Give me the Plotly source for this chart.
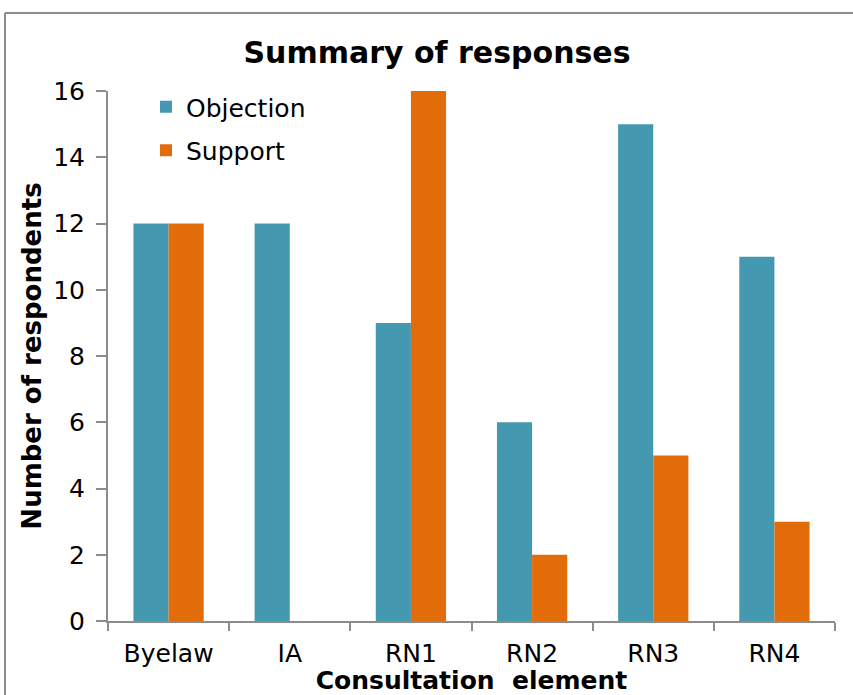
import plotly.graph_objects as go

categories = ["Byelaw", "IA", "RN1", "RN2", "RN3", "RN4"]
objection = [12, 12, 9, 6, 15, 11]
support = [12, 0, 16, 2, 5, 3]
y_ticks = [0, 2, 4, 6, 8, 10, 12, 14, 16]

teal = "#4499B0"
orange = "#E36C0A"
font = "DejaVu Sans"

fig = go.Figure()
fig.add_trace(go.Bar(x=categories, y=objection, name="Objection",
                     marker=dict(color=teal, line=dict(width=0)), legendgroup="a"))
fig.add_trace(go.Bar(x=categories, y=support, name="Support",
                     marker=dict(color=orange, line=dict(width=0)), legendgroup="b"))

L, R, T, B = 108, 18, 91, 74
W, H = 853, 695
pw, ph = W - L - R, H - T - B

def px_x(p):
    return (p - L) / pw

def px_y(p):
    return (H - B - p) / ph

fig.update_layout(
    width=W, height=H,
    margin=dict(l=L, r=R, t=T, b=B),
    paper_bgcolor="white", plot_bgcolor="white",
    font=dict(family=font, size=25, color="black"),
    barmode="group", bargap=0.42, bargroupgap=0,
    title=dict(text="<b>Summary of responses</b>", xref="container", x=437 / W,
               xanchor="center", yref="container", y=1 - 52 / H, yanchor="middle",
               font=dict(size=30, family=font)),
    legend=dict(x=px_x(146), y=px_y(84), xanchor="left", yanchor="top",
                bgcolor="rgba(0,0,0,0)", font=dict(size=25), tracegroupgap=8,
                itemwidth=30),
    showlegend=True,
    xaxis=dict(
        type="category", showline=True, linecolor="#8c8c8c", linewidth=2,
        ticks="outside", tickson="boundaries", ticklen=8, tickcolor="#8c8c8c",
        tickwidth=1.5, showgrid=False, tickfont=dict(size=25), automargin=False,
        ticklabelstandoff=9,
        title=dict(text="<b>Consultation  element</b>", font=dict(size=25), standoff=0),
    ),
    yaxis=dict(
        range=[0, 16], tickvals=y_ticks, showline=True, linecolor="#8c8c8c",
        linewidth=2, ticks="outside", ticklen=10, tickcolor="#8c8c8c", tickwidth=1.5,
        showgrid=False, zeroline=False, tickfont=dict(size=25), automargin=False,
        ticklabelstandoff=6,
        title=dict(text="<b>Number of respondents</b>", font=dict(size=26), standoff=4),
    ),
    shapes=[
        dict(type="line", xref="paper", yref="paper", x0=px_x(5), x1=1.2,
             y0=px_y(13), y1=px_y(13), line=dict(color="#8c8c8c", width=2)),
        dict(type="line", xref="paper", yref="paper", x0=px_x(5), x1=px_x(5),
             y0=px_y(13), y1=-0.3, line=dict(color="#8c8c8c", width=2)),
    ],
)

fig.write_html("out.html", config={"displayModeBar": False},
               post_script="document.body.style.margin='0';")
